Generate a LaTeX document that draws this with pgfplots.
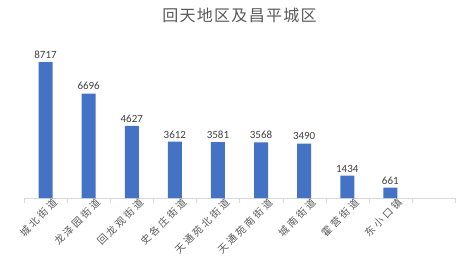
\documentclass[border=0pt]{standalone}
\usepackage{pgfplots}
\pgfplotsset{compat=1.18}
\usepackage{fontspec}
\setmainfont{Noto Sans CJK SC}
\newfontfamily\numfont{Carlito}
\definecolor{barblue}{HTML}{4472C4}
\definecolor{txtgray}{HTML}{595959}
\definecolor{axgray}{HTML}{D9D9D9}
\begin{document}
\begin{tikzpicture}
\begin{axis}[
  name=a,
  scale only axis,
  width=431bp, height=156bp,
  xmin=-0.5, xmax=9.5,
  ymin=0, ymax=10000,
  axis x line=bottom,
  axis y line=none,
  x axis line style={draw=axgray,-},
  xtick={0,...,8},
  xticklabels={城北街道,龙泽园街道,回龙观街道,史各庄街道,天通苑北街道,天通苑南街道,城南街道,霍营街道,东小口镇},
  major tick length=0pt,
  minor xtick={-0.5,0.5,...,9.5},
  minor tick length=5bp,
  tick align=outside,
  minor tick style={draw=axgray},
  x tick label style={rotate=45, anchor=north east, font=\fontsize{10bp}{11bp}\selectfont\addfontfeature{LetterSpace=25}, text=txtgray, inner sep=1bp, xshift=6bp, yshift=-3bp},
  ytick=\empty,
  ybar, bar width=14bp,
  nodes near coords,
  nodes near coords style={font=\numfont\fontsize{11bp}{12bp}\selectfont, text=black!75, /pgf/number format/fixed, /pgf/number format/1000 sep={}, /pgf/number format/assume math mode=true},
  title={回天地区及昌平城区},
  title style={font=\fontsize{16bp}{18bp}\selectfont\addfontfeature{LetterSpace=8}, text=txtgray, at={(0.5,1)}, yshift=10bp},
  clip=false,
]
\addplot[fill=barblue, draw=none] coordinates {(0,8717) (1,6696) (2,4627) (3,3612) (4,3581) (5,3568) (6,3490) (7,1434) (8,661)};
\end{axis}
\pgfresetboundingbox
\path ([shift={(-24bp,-71bp)}]a.south west) rectangle ([shift={(11bp,42bp)}]a.north east);
\end{tikzpicture}
\end{document}
